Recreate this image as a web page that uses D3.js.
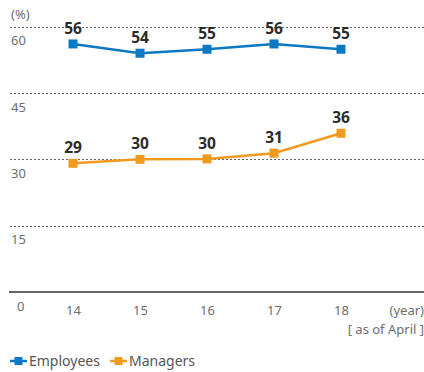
<!DOCTYPE html>
<html>
<head>
<meta charset="utf-8">
<script src="https://cdn.jsdelivr.net/npm/d3@7"></script>
<style>
  html, body { margin: 0; padding: 0; background: #fff; }
  svg { display: block; font-family: "Noto Sans", "Open Sans", sans-serif; }
</style>
</head>
<body>
<svg id="chart" width="424" height="372"></svg>
<script>
// Share of women (%), as of April each year
const years = ["14", "15", "16", "17", "18"];
const employees = [56.1, 54.0, 54.9, 56.1, 54.9];
const managers = [29.1, 30.0, 30.1, 31.4, 35.9];
const yTicks = [0, 15, 30, 45, 60];
const seriesNames = ["Employees", "Managers"];
const seriesColors = ["#0a78c2", "#f09a20"];

const svg = d3.select("#chart");

const x = d3.scalePoint().domain(years).range([73, 341]);
const y = d3.scaleLinear().domain([0, 60]).range([292, 26.7]);

// Horizontal gridlines (dotted), baseline solid
const grid = svg.append("g");
yTicks.filter(t => t > 0).forEach(t => {
  grid.append("line")
    .attr("x1", 10).attr("x2", 424)
    .attr("y1", Math.round(y(t)) + 0.5).attr("y2", Math.round(y(t)) + 0.5)
    .attr("stroke", "#666").attr("stroke-width", 1)
    .attr("stroke-dasharray", "2,2");
});
grid.append("line")
  .attr("x1", 9).attr("x2", 424)
  .attr("y1", y(0)).attr("y2", y(0))
  .attr("stroke", "#333").attr("stroke-width", 1.5);

// Y tick labels sit just below each gridline
const yAxis = d3.axisLeft(y).tickValues(yTicks).tickSize(0).tickPadding(0);
const yg = svg.append("g").attr("transform", "translate(11,0)").call(yAxis);
yg.select(".domain").remove();
yg.selectAll("text")
  .attr("text-anchor", "start")
  .attr("dy", null)
  .attr("y", 18)
  .attr("x", d => d === 0 ? 6 : 0)
  .attr("fill", "#6e6e6e")
  .style("font-size", "13px")
  .style("font-family", "\"Noto Sans\", sans-serif");

svg.append("text").text("(%)")
  .attr("x", 11).attr("y", 19)
  .attr("fill", "#6e6e6e").style("font-size", "13px");

// X axis labels
const xAxis = d3.axisBottom(x).tickSize(0).tickPadding(0);
const xg = svg.append("g").attr("transform", `translate(0,${y(0)})`).call(xAxis);
xg.select(".domain").remove();
xg.selectAll("text")
  .attr("dy", null)
  .attr("y", 23)
  .attr("fill", "#6e6e6e")
  .style("font-size", "13px")
  .style("font-family", "\"Noto Sans\", sans-serif");

svg.append("text").text("(year)")
  .attr("x", 424).attr("y", 315).attr("text-anchor", "end")
  .attr("fill", "#6e6e6e").style("font-size", "13px");
svg.append("text").text("[ as of April ]")
  .attr("x", 424).attr("y", 334).attr("text-anchor", "end")
  .attr("fill", "#6e6e6e").style("font-size", "13px");

// Series lines, markers and value labels
const data = [employees, managers];
const line = d3.line().x((d, i) => x(years[i])).y(d => y(d));

data.forEach((vals, si) => {
  const g = svg.append("g");
  g.append("path").datum(vals)
    .attr("d", line)
    .attr("fill", "none")
    .attr("stroke", seriesColors[si])
    .attr("stroke-width", 2.5);
  g.selectAll("rect").data(vals).join("rect")
    .attr("x", (d, i) => x(years[i]) - 4.5)
    .attr("y", d => y(d) - 4.5)
    .attr("width", 9).attr("height", 9)
    .attr("fill", seriesColors[si]);
  g.selectAll("text").data(vals).join("text")
    .text(d => Math.round(d))
    .attr("x", (d, i) => x(years[i]))
    .attr("y", d => y(d) - 10)
    .attr("text-anchor", "middle")
    .attr("fill", "#2b2b2b")
    .style("font-size", "15.5px")
    .style("font-weight", "bold");
});

// Legend
const legend = svg.append("g").attr("transform", "translate(0,361)");
const legendX = [10, 110];
seriesNames.forEach((name, i) => {
  const lg = legend.append("g").attr("transform", `translate(${legendX[i]},0)`);
  lg.append("line").attr("x1", 0).attr("x2", 17).attr("y1", 0).attr("y2", 0)
    .attr("stroke", seriesColors[i]).attr("stroke-width", 2.5);
  lg.append("rect").attr("x", 4.5).attr("y", -4).attr("width", 8).attr("height", 8)
    .attr("fill", seriesColors[i]);
  lg.append("text").text(name)
    .attr("x", 19).attr("y", 5)
    .attr("fill", "#555").style("font-size", "14px");
});
</script>
</body>
</html>
